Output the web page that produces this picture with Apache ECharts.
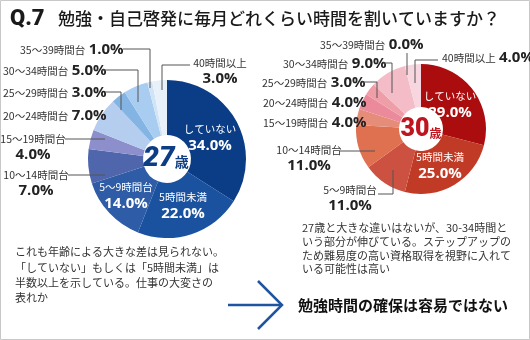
<!DOCTYPE html>
<html><head><meta charset="utf-8">
<script src="https://cdn.jsdelivr.net/npm/echarts@6/dist/echarts.min.js"></script>
<style>html,body{margin:0;padding:0;background:#fff}#c{width:530px;height:340px}</style>
</head><body><div id="c"></div>
<script>
// ---- data ----
const categories = ['していない','5時間未満','5～9時間台','10～14時間台','15～19時間台','20～24時間台','25～29時間台','30～34時間台','35～39時間台','40時間以上'];
const values27 = [34, 22, 14, 7, 4, 7, 3, 5, 1, 3];
const values30 = [29, 25, 11, 11, 4, 4, 3, 9, 0, 4];
const centerLabel27 = ['27', '歳'];
const centerLabel30 = ['30', '歳'];
const titleQ = 'Q.7';
const titleText = '勉強・自己啓発に毎月どれくらい時間を割いていますか？';
const note27 = ['これも年齢による大きな差は見られない。','「していない」もしくは「5時間未満」は','半数以上を示している。仕事の大変さの','表れか'];
const note30 = ['27歳と大きな違いはないが、30-34時間と','いう部分が伸びている。ステップアップの','ため難易度の高い資格取得を視野に入れて','いる可能性は高い'];
const conclusion = '勉強時間の確保は容易ではない';

// ---- styles ----
const colors27 = ['#0b3d86','#1b52a0','#2e5ca6','#4f66ad','#8c8fcc','#b5cdee','#84b4e3','#a9cdf0','#d0e4f6','#e8f1fa'];
const colors30 = ['#ab0c0e','#c13a26','#cc5140','#df7050','#e58d78','#ea8a9b','#ef9ea8','#f3bcc6','#f6ccd6','#f7d6e0'];
const FONT = '"Noto Sans CJK JP", sans-serif';
const NUMFONT = '"Open Sans", "Noto Sans CJK JP", sans-serif';

// label placement per slice: mode one=single line, two=two lines, in=inside white
const place27 = [
  {m:'in', x:210, y:138, a:'center'},
  {m:'in', x:183, y:206, a:'center'},
  {m:'in', x:126, y:196, a:'center'},
  {m:'two', x:36, y:183, a:'center', line:[[68,175],[105,175]]},
  {m:'two', x:33, y:147, a:'center', line:[[65,139],[105,139]]},
  {m:'one', x:3, y:116, a:'left'},
  {m:'one', x:3, y:93, a:'left', line:[[105,92],[121,92],[121,110]]},
  {m:'one', x:3, y:71, a:'left', line:[[102,70],[138,70],[138,102]]},
  {m:'one', x:20, y:50, a:'left', line:[[123,49],[150,49],[150,88]]},
  {m:'two', x:220, y:71, a:'center', line:[[190,65],[162,65],[162,90]]}
];
const place30 = [
  {m:'in', x:450, y:105, a:'center'},
  {m:'in', x:440, y:166, a:'center'},
  {m:'two', x:350, y:198, a:'center', line:[[378,194],[393,194],[393,170]]},
  {m:'two', x:309, y:158, a:'center', line:[[340,151],[375,151]]},
  {m:'one', x:263, y:123, a:'left'},
  {m:'one', x:263, y:103, a:'left'},
  {m:'one', x:262, y:83, a:'left', line:[[362,82],[377,82],[377,98]]},
  {m:'one', x:283, y:64, a:'left', line:[[383,63],[392,63],[392,93]]},
  {m:'one', x:320, y:45, a:'left', line:[[407,53],[407,75]]},
  {m:'one', x:442, y:58, a:'left', line:[[438,60],[415,60],[415,83]]}
];

function makeData(vals, colors){
  return categories.map((c,i)=>({name:c, value:vals[i], itemStyle:{color:colors[i]}}));
}
function fmt(place){
  return function(p){
    const m = place[p.dataIndex].m, v = p.value.toFixed(1)+'%';
    if (m==='in') return '{wn|'+p.name+'}\n{wv|'+v+'}';
    if (m==='two') return '{n|'+p.name+'}\n{v|'+v+'}';
    return '{n|'+p.name+'} {v|'+v+'}';
  };
}
function layoutFn(place){
  return function(params){
    const p = place[params.dataIndex];
    return {x:p.x, y:p.y, align:p.a, verticalAlign:'middle'};
  };
}
const rich = {
  n:{fontSize:10.5, color:'#333', fontFamily:FONT, lineHeight:15},
  v:{fontSize:15, fontWeight:'bold', color:'#222', fontFamily:NUMFONT, lineHeight:16},
  wn:{fontSize:10.5, color:'#fff', fontFamily:FONT, lineHeight:15},
  wv:{fontSize:15, fontWeight:'bold', color:'#fff', fontFamily:NUMFONT, lineHeight:17}
};
function pieSeries(vals, colors, place, center, radius){
  return {
    type:'pie', center:center, radius:radius, startAngle:90, clockwise:true,
    avoidLabelOverlap:false, silent:true, animation:false,
    itemStyle:{borderWidth:0},
    label:{show:true, position:'outside', formatter:fmt(place), rich:rich},
    labelLine:{show:false},
    labelLayout:layoutFn(place),
    data:makeData(vals, colors)
  };
}

const chart = echarts.init(document.getElementById('c'), null, {renderer:'canvas'});
const graphics = [
  {type:'rect', shape:{x:0.5, y:0.5, width:529, height:339}, style:{fill:'none', stroke:'#c8c8c8', lineWidth:1}, z:0},
  {type:'text', x:10, y:19, style:{text:titleQ, font:'900 22px Roboto, sans-serif', fill:'#1a1a1a', verticalAlign:'middle'}},
  {type:'text', x:58, y:19, style:{text:titleText, font:'500 17px '+FONT, fill:'#1a1a1a', verticalAlign:'middle'}},
  {type:'text', x:166, y:159, z:10, style:{text:'{a|'+centerLabel27[0]+'}{b|'+centerLabel27[1]+'}', align:'center', verticalAlign:'middle',
    rich:{a:{font:'italic 900 28px Roboto, sans-serif', fill:'#0d3d85'}, b:{font:'bold 14px '+FONT, fill:'#0d3d85', padding:[6,0,0,0]}}}},
  {type:'text', x:421, y:130, z:10, style:{text:'{a|'+centerLabel30[0]+'}{b|'+centerLabel30[1]+'}', align:'center', verticalAlign:'middle',
    rich:{a:{font:'900 25px Roboto, sans-serif', fill:'#c0141e'}, b:{font:'bold 12px '+FONT, fill:'#c0141e', padding:[6,0,0,0]}}}},
  {type:'polyline', shape:{points:[[228,305],[282,305]]}, style:{stroke:'#1f55a0', lineWidth:2.5, fill:'none'}},
  {type:'polyline', shape:{points:[[258,281],[282,305],[258,329]]}, style:{stroke:'#1f55a0', lineWidth:2.5, fill:'none'}},
  {type:'text', x:298, y:305, style:{text:conclusion, font:'bold 15px '+FONT, fill:'#111', verticalAlign:'middle'}}
];
// leader lines for outside labels
[place27, place30].forEach(pl=>pl.forEach(p=>{
  if (p.line) graphics.push({type:'polyline', z:20, shape:{points:p.line}, style:{stroke:'#555', lineWidth:1, fill:'none'}});
}));
note27.forEach((t,i)=>graphics.push({type:'text', x:15, y:252+i*15.4, style:{text:t, font:'11px '+FONT, fill:'#333', verticalAlign:'middle'}}));
note30.forEach((t,i)=>graphics.push({type:'text', x:302, y:228+i*13.7, style:{text:t, font:'11px '+FONT, fill:'#333', verticalAlign:'middle'}}));

chart.setOption({
  animation:false,
  backgroundColor:'#fff',
  series:[
    pieSeries(values27, colors27, place27, [167,159], [24,79]),
    pieSeries(values30, colors30, place30, [421,129], [22,65])
  ],
  graphic:graphics
});
</script></body></html>
